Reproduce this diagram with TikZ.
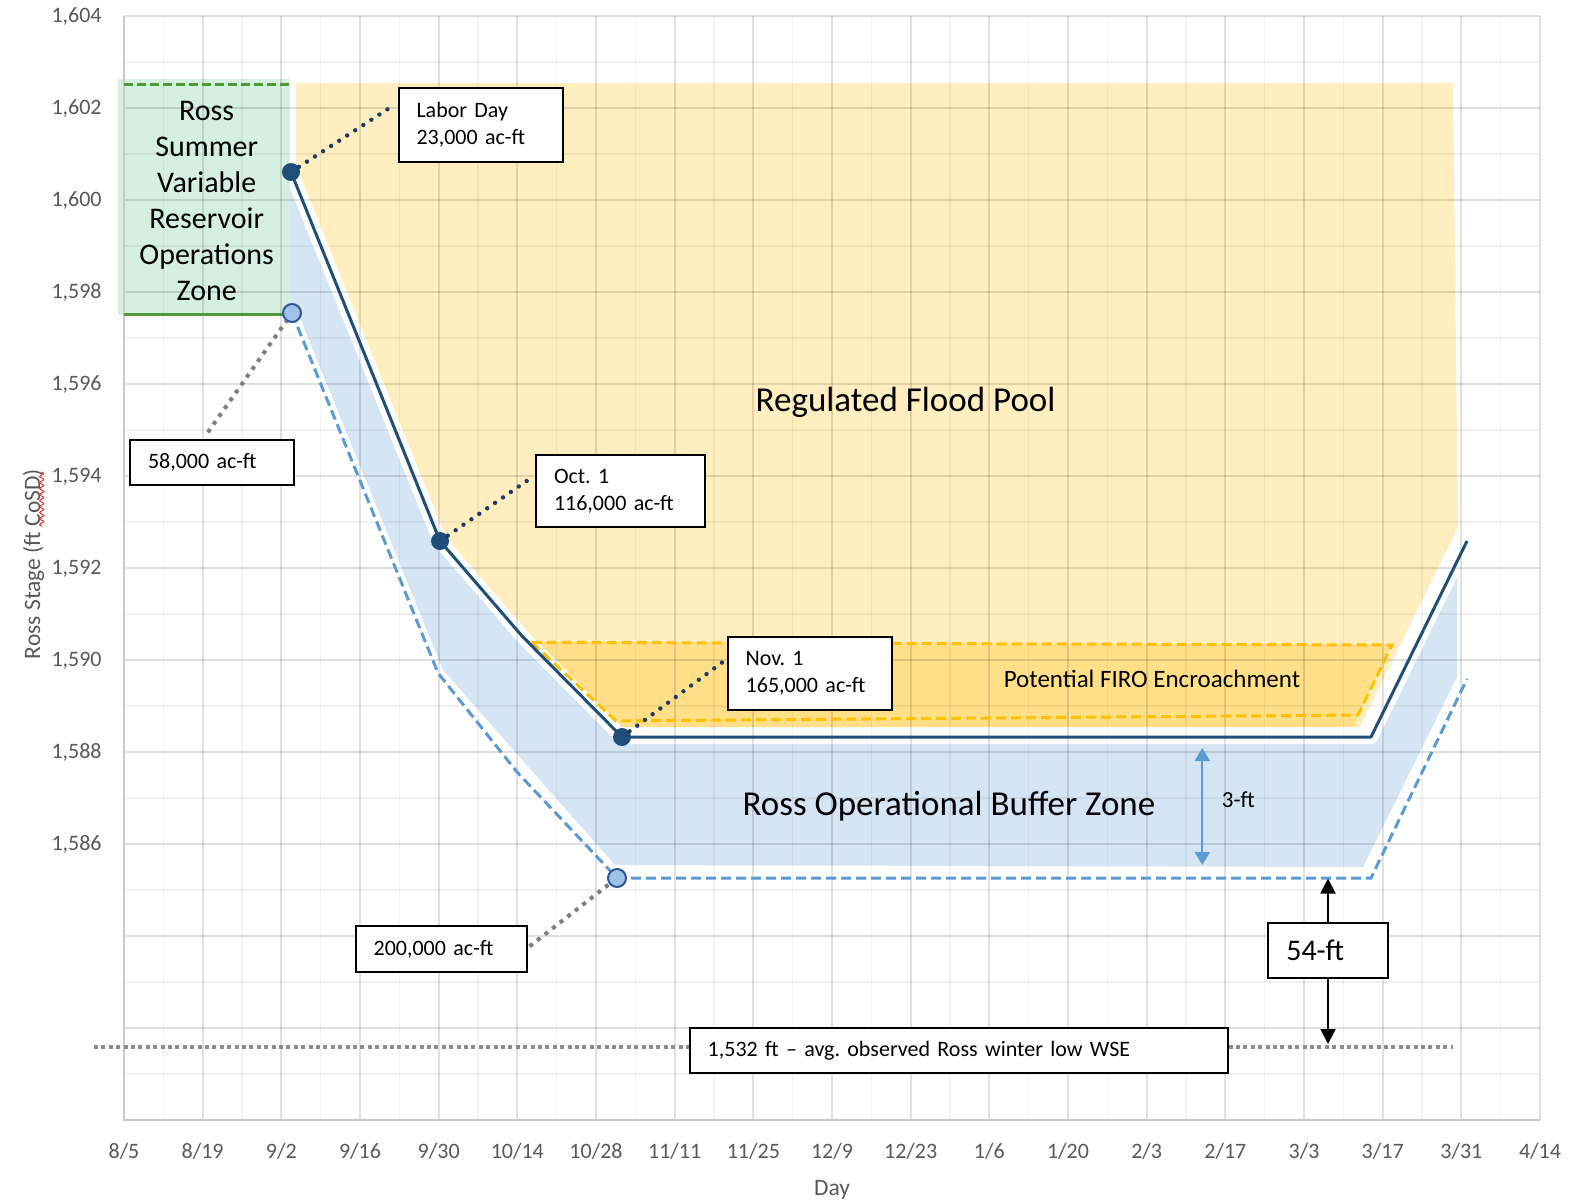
\documentclass[tikz,border=0pt]{standalone}
\usepackage{fontspec}
\setmainfont{Carlito}
\usetikzlibrary{calc,arrows.meta,decorations.pathmorphing}
\definecolor{cNavy}{HTML}{1F4E79}
\definecolor{cNavyDot}{HTML}{1F3864}
\definecolor{cLtBlue}{HTML}{5B9BD5}
\definecolor{cCircFill}{HTML}{9DC3E6}
\definecolor{cCircLine}{HTML}{2F5597}
\definecolor{cBlueFill}{HTML}{D6E5F4}
\definecolor{cYelFill}{HTML}{FFEEBF}
\definecolor{cFiroFill}{HTML}{FFDF88}
\definecolor{cFiroLine}{HTML}{FFC000}
\definecolor{cGrnFill}{HTML}{D6F0E0}
\definecolor{cGrnLine}{HTML}{4E9A3A}
\definecolor{cDotGray}{HTML}{7F7F7F}
\definecolor{cBaseGray}{HTML}{8C8C8C}
\definecolor{cTick}{HTML}{595959}
\definecolor{cAxis}{HTML}{C9C9C9}
\frenchspacing
\begin{document}
\begin{tikzpicture}[x=0.5pt,y=-0.5pt,
  every node/.style={inner sep=0pt},
  callout/.style={draw=black, line width=1pt, fill=white, inner xsep=9pt, inner ysep=0pt,
    align=left, anchor=north west, font=\fontsize{11}{13.5}\selectfont\frenchspacing},
  darkdot/.style={circle, fill=cNavy, minimum size=9pt},
  lightdot/.style={circle, fill=cCircFill, draw=cCircLine, line width=1pt, minimum size=9pt},
  navyleader/.style={draw=cNavyDot, line width=2.2pt, line cap=round, dash pattern=on 0pt off 4.8pt},
  grayleader/.style={draw=cDotGray, line width=2pt, dash pattern=on 2pt off 2.8pt},
  basedot/.style={draw=cBaseGray, line width=2pt, dash pattern=on 2pt off 1.7pt},
  majorgrid/.style={draw=black, draw opacity=0.12, line width=0.9pt},
  minorgrid/.style={draw=black, draw opacity=0.05, line width=0.8pt},
  ticklabel/.style={text=cTick, font=\fontsize{11}{13}\selectfont},
  zonetext/.style={text=black, font=\fontsize{17.5}{21}\selectfont, anchor=base},
  blueline/.style={draw=cLtBlue, line width=1.5pt, dash pattern=on 5pt off 2.5pt},
  darkline/.style={draw=cNavy, line width=1.5pt, line join=round}
]
\useasboundingbox (0,0) rectangle (1583,1200);
\fill[white] (0,0) rectangle (1583,1200);

% path vertices
\coordinate (P1) at (291,172);
\coordinate (P2) at (440,541);
\coordinate (P3) at (522,636);
\coordinate (P4) at (622,737);
\coordinate (P5) at (1371,737);
\coordinate (P6) at (1467,541);
\coordinate (Q1) at (292,313);
\coordinate (Q2) at (438,673);
\coordinate (Q3) at (517,772);
\coordinate (Q4) at (617,878);
\coordinate (Q5) at (1371,878);
\coordinate (Q6) at (1467,679);

% zone fills
\fill[cYelFill] (296,83) -- (1453,83) -- (1458,527) -- (1360,727) -- (612,727) -- (P3) -- (P2) -- (296,184) -- cycle;
\fill[cFiroFill] (531,642) -- (1392,645) -- (1358,715) -- (1355,727) -- (612,727) -- cycle;
\fill[cBlueFill] (290,178) -- (P1) -- (P2) -- (P3) -- (P4) -- (P5) -- (1457,561.4) -- (1457,677)
  -- (1363,867) -- (615,865) -- (443,670) -- (300,318) -- (290,306) -- cycle;
\draw[white, line width=7pt, line join=round] (P1) -- (P2) -- (P3) -- (P4) -- (P5) -- (P6);
\fill[cGrnFill] (118,79) rectangle (290,315);

% grid
\foreach \k in {1,3,...,23} \draw[minorgrid] (124,{16+46*\k}) -- (1540,{16+46*\k});
\foreach \j in {1,3,...,35} \draw[minorgrid] ({124+39.3333*\j},16) -- ({124+39.3333*\j},1120);
\foreach \k in {0,2,...,22} \draw[majorgrid] (124,{16+46*\k}) -- (1540,{16+46*\k});
\foreach \j in {2,4,...,36} \draw[majorgrid] ({124+39.3333*\j},16) -- ({124+39.3333*\j},1120);
\draw[cAxis, line width=1pt] (124,16) -- (124,1120) -- (1540,1120);

% zone outlines
\draw[cFiroLine, line width=1.5pt, dash pattern=on 5pt off 2.5pt] (531.7,642.3) -- (1392,645) -- (1358,715) -- (616,721) -- cycle;
\draw[cGrnLine, line width=1.5pt, dash pattern=on 4.5pt off 2pt] (124,84.3) -- (290,84.3);
\draw[cGrnLine, line width=1.5pt] (124,314.3) -- (283,314.3);

% rule curves
\draw[blueline] (Q1) -- (Q2) -- (Q3) -- (Q4) -- (Q5) -- (Q6);
\draw[darkline] (P1) -- (P2) -- (P3) -- (P4) -- (P5) -- (P6);

% points
\node[darkdot] (ld) at (P1) {};
\node[darkdot] (oct) at (P2) {};
\node[darkdot] (nov) at (P4) {};
\node[lightdot] (c58) at (Q1) {};
\node[lightdot] (c200) at (Q4) {};

% callout boxes
\node[callout, text width=64pt, minimum height=37pt] (bld) at (397.5,86.7) {Labor Day\\23,000 ac-ft};
\node[callout, text width=63.85pt, minimum height=22.5pt] (b58) at (129,439.3) {58,000 ac-ft};
\node[callout, text width=66.35pt, minimum height=35.85pt] (boct) at (535,454.3) {Oct. 1\\116,000 ac-ft};
\node[callout, text width=64pt, minimum height=36.35pt] (bnov) at (726.7,636) {Nov. 1\\165,000 ac-ft};
\node[callout, text width=67.5pt, minimum height=22.7pt] (b200) at (354.6,925.3) {200,000 ac-ft};
\node[callout, text width=250.9pt, minimum height=22.5pt] (blow) at (688.7,1027) {1,532 ft – avg. observed Ross winter low WSE};
\node[callout, text width=41.7pt, minimum height=27.5pt, font=\fontsize{15}{18}\selectfont] (b54) at (1267.3,922.3) {54-ft};

% leaders
\draw[navyleader] (ld) -- ($(bld.north west)+(-3,18)$);
\draw[grayleader] ($(b58.north)+(-4,-7)$) -- (c58);
\draw[navyleader] (oct) -- ($(boct.north west)+(-3,23)$);
\draw[navyleader] (nov) -- ($(bnov.north west)+(-4,26)$);
\draw[grayleader] ($(b200.north east)+(2,21)$) -- (c200);

% low water line
\coordinate (bl1) at (94,1046.7);
\coordinate (bl2) at (1453,1046.7);
\draw[basedot] (bl1) -- (bl1 -| blow.west);
\draw[basedot] (bl2 -| blow.east) -- (bl2);

% dimension arrows
\coordinate (t54) at (1328,878.5);
\coordinate (u54) at (1328,1044);
\draw[black, line width=1pt, -{Triangle[length=7.5pt,width=7.5pt]}] (b54.north) -- (b54.north |- t54);
\draw[black, line width=1pt, -{Triangle[length=7.5pt,width=7.5pt]}] (b54.south) -- (b54.south |- u54);
\coordinate (f1) at (1202.3,748);
\coordinate (f2) at (1202.3,865);
\draw[cLtBlue, line width=1pt, {Triangle[length=6.5pt,width=7.5pt]}-{Triangle[length=6.5pt,width=7.5pt]}] (f1) -- (f2);

% zone texts
\node[align=center, anchor=north, font=\fontsize{15}{18}\selectfont] (gtext) at (206.7,100.7)
  {Ross\\Summer\\Variable\\Reservoir\\Operations\\Zone};
\node[zonetext] (rfp) at (905.6,411) {Regulated Flood Pool};
\node[zonetext] (rob) at (949,815) {Ross Operational Buffer Zone};
\node[anchor=base, font=\fontsize{12.5}{15}\selectfont] (firo) at (1152,687.3) {Potential FIRO Encroachment};
\node[anchor=base, font=\fontsize{11.5}{14}\selectfont] (three) at (1238.3,807.3) {3-ft};

% axes labels
\foreach \v [count=\i from 0] in {604,602,600,598,596,594,592,590,588,586}
  \node[ticklabel, anchor=base east] at (102,{22.7+92*\i}) {1,\v};
\foreach \lab [count=\i from 0] in {{8/5},{8/19},{9/2},{9/16},{9/30},{10/14},{10/28},{11/11},{11/25},{12/9},{12/23},{1/6},{1/20},{2/3},{2/17},{3/3},{3/17},{3/31},{4/14}}
  \node[ticklabel, anchor=base] at ({124+78.6667*\i},1158) {\lab};
\node[anchor=base, text=cTick, font=\fontsize{11.75}{14}\selectfont] (xt) at (832,1195) {Day};
\node[rotate=90, text=cTick, font=\fontsize{11.75}{14}\selectfont] (yt) at (33.5,564) {Ross Stage (ft CoSD)};
\draw[red!85, line width=0.5pt, decorate, decoration={snake, amplitude=1pt, segment length=3pt}] (41.7,471.7) -- (41.7,526.7);
\end{tikzpicture}
\end{document}
